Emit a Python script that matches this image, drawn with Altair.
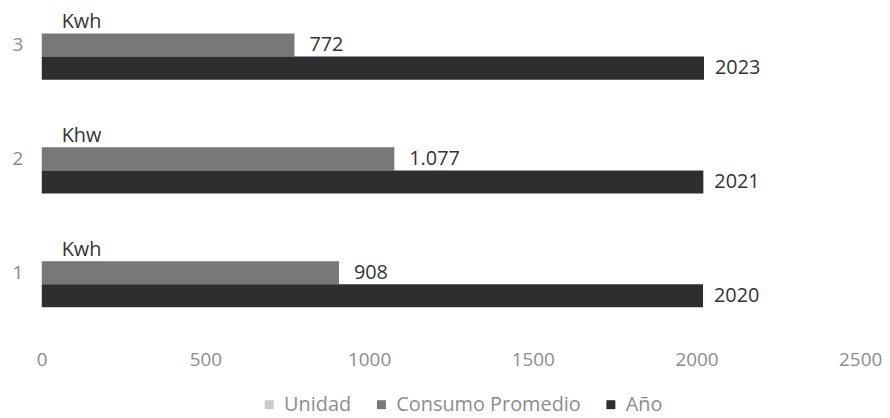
import altair as alt
import pandas as pd

categorias = ["1", "2", "3"]
unidades = ["Kwh", "Khw", "Kwh"]
consumo = [908, 1077, 772]
anios = [2020, 2021, 2023]
series = ["Unidad", "Consumo Promedio", "Año"]
colores = ["#c9c9c9", "#787878", "#2e2e2e"]
ticks = [0, 500, 1000, 1500, 2000, 2500]
orden_y = ["3", "2", "1"]


def fmt(v):
    return f"{v:,}".replace(",", ".")


rows = []
for i, c in enumerate(categorias):
    rows.append(dict(cat=c, serie="Unidad", valor=0, etiqueta=unidades[i]))
    rows.append(dict(cat=c, serie="Consumo Promedio", valor=consumo[i], etiqueta=fmt(consumo[i])))
    rows.append(dict(cat=c, serie="Año", valor=anios[i], etiqueta=str(anios[i])))
df = pd.DataFrame(rows)

FONT = "Open Sans"

y_enc = alt.Y(
    "cat:N",
    sort=orden_y,
    scale=alt.Scale(paddingInner=0.391, paddingOuter=0),
    axis=alt.Axis(title=None, ticks=False, domain=False, labelPadding=19,
                  labelFontSize=19, labelColor="#8a8a8a", labelFont=FONT, labelAngle=0),
)
yoff = alt.YOffset("serie:N", sort=series, scale=alt.Scale(paddingInner=0, paddingOuter=0))
x_enc = alt.X(
    "valor:Q",
    scale=alt.Scale(domain=[0, 2500], nice=False),
    axis=alt.Axis(values=ticks, grid=False, domain=False, ticks=False, labelPadding=44,
                  title=None, labelFontSize=19, labelColor="#8c8c8c", labelFont=FONT,
                  format="d", labelFlush=False, labelBound=False, labelOverlap=False),
)

bars = alt.Chart(df).mark_bar().encode(
    y=y_enc,
    yOffset=yoff,
    x=x_enc,
    color=alt.Color(
        "serie:N",
        sort=series,
        scale=alt.Scale(domain=series, range=colores),
        legend=alt.Legend(
            title=None, orient="none", legendX=219, legendY=387, direction="horizontal",
            symbolType="square", symbolSize=81, symbolStrokeWidth=0,
            labelFontSize=20, labelColor="#8c8c8c", labelFont=FONT, labelLimit=400,
            columnPadding=20, labelOffset=5,
        ),
    ),
)


def text_layer(serie, dx):
    return alt.Chart(df).transform_filter(alt.datum.serie == serie).mark_text(
        align="left", baseline="middle", dx=dx, fontSize=20, color="#333333", font=FONT
    ).encode(
        y=alt.Y("cat:N", sort=orden_y),
        yOffset=yoff,
        x="valor:Q",
        text="etiqueta:N",
    )


chart = (
    alt.layer(bars, text_layer("Unidad", 20), text_layer("Consumo Promedio", 15), text_layer("Año", 11))
    .properties(
        width=824,
        height=299,
        autosize="none",
        padding={"left": 34, "top": 1, "right": 22, "bottom": 110},
    )
    .configure_view(stroke=None)
)

chart.save("out.html", embed_options={"renderer": "svg", "actions": False})
